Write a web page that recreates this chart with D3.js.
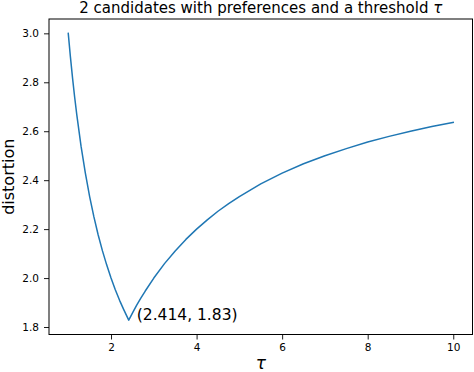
<!DOCTYPE html>
<html>
<head>
<meta charset="utf-8">
<script src="https://cdn.jsdelivr.net/npm/d3@7"></script>
<style>
  html, body { margin: 0; padding: 0; background: #fff; }
  svg { display: block; font-family: "DejaVu Sans", sans-serif; }
</style>
</head>
<body>
<svg id="chart" width="474" height="372"></svg>
<script>
// ---- data ----
const tau = [1.0, 1.05, 1.1, 1.15, 1.2, 1.3, 1.4, 1.5, 1.6, 1.7, 1.8, 1.9, 2.0, 2.1, 2.2, 2.3, 2.414,
             2.5, 2.6, 2.7, 2.8, 3.0, 3.25, 3.5, 3.75, 4.0, 4.25, 4.5, 4.75, 5.0, 5.5, 6.0, 6.5, 7.0, 7.5,
             8.0, 8.5, 9.0, 9.5, 10.0];
const distortion = [3.000, 2.905, 2.818, 2.739, 2.667, 2.538, 2.429, 2.333, 2.250, 2.176, 2.111, 2.053, 2.000, 1.952, 1.909, 1.870, 1.828,
                    1.857, 1.889, 1.919, 1.947, 2.000, 2.059, 2.111, 2.158, 2.200, 2.238, 2.273, 2.304, 2.333, 2.385, 2.429, 2.467, 2.500, 2.529,
                    2.556, 2.579, 2.600, 2.619, 2.636];
const xTicks = [2, 4, 6, 8, 10];
const yTicks = [1.8, 2.0, 2.2, 2.4, 2.6, 2.8, 3.0];
const minPoint = [2.414, 1.83];
const annotationText = "(2.414, 1.83)";
const titleText = "2 candidates with preferences and a threshold ";
const titleSymbol = "\u03C4";
const xLabel = "\u03C4";
const yLabel = "distortion";

(function () {
// ---- layout ----
const svg = d3.select("#chart");
const mLeft = 49, mRight = 472.5, mTop = 19, mBottom = 334.5;

// matplotlib-style 5% margins
const xExt = d3.extent(tau), yExt = d3.extent(distortion);
const xPad = (xExt[1] - xExt[0]) * 0.05, yPad = (yExt[1] - yExt[0]) * 0.05;
const x = d3.scaleLinear().domain([xExt[0] - xPad, xExt[1] + xPad]).range([mLeft, mRight]);
const y = d3.scaleLinear().domain([yExt[0] - yPad, yExt[1] + yPad]).range([mBottom, mTop]);

// line
const line = d3.line().x((d, i) => x(tau[i])).y(d => y(d));
svg.append("path")
  .datum(distortion)
  .attr("d", line)
  .attr("fill", "none")
  .attr("stroke", "#1f77b4")
  .attr("stroke-width", 1.5)
  .attr("stroke-linejoin", "round")
  .attr("stroke-linecap", "square");

// axes
const xAxis = d3.axisBottom(x).tickValues(xTicks).tickFormat(d3.format("d")).tickSize(5).tickPadding(4);
const yAxis = d3.axisLeft(y).tickValues(yTicks).tickFormat(d3.format(".1f")).tickSize(5).tickPadding(5);

const gx = svg.append("g").attr("transform", `translate(0,${mBottom})`).call(xAxis);
const gy = svg.append("g").attr("transform", `translate(${mLeft},0)`).call(yAxis);
[gx, gy].forEach(g => {
  g.select(".domain").remove();
  g.selectAll(".tick line").attr("stroke", "#000").attr("stroke-width", 0.9);
  g.selectAll(".tick text").attr("fill", "#000").style("font-size", "10.5px").style("font-family", "DejaVu Sans");
});

// frame (spines)
svg.append("rect")
  .attr("x", mLeft).attr("y", mTop)
  .attr("width", mRight - mLeft).attr("height", mBottom - mTop)
  .attr("fill", "none").attr("stroke", "#000").attr("stroke-width", 1);

// annotation
svg.append("text")
  .attr("x", x(minPoint[0]) + 8)
  .attr("y", y(minPoint[1]))
  .attr("font-size", "15.5px")
  .attr("fill", "#000")
  .text(annotationText);

// title
const title = svg.append("text")
  .attr("x", (mLeft + mRight) / 2)
  .attr("y", 13)
  .attr("text-anchor", "middle")
  .attr("font-size", "15px")
  .attr("fill", "#000");
title.append("tspan").text(titleText);
title.append("tspan").attr("font-style", "italic").text(titleSymbol);

// x label
svg.append("text")
  .attr("x", (mLeft + mRight) / 2)
  .attr("y", 369)
  .attr("text-anchor", "middle")
  .attr("font-size", "17px")
  .attr("font-style", "italic")
  .attr("fill", "#000")
  .text(xLabel);

// y label
svg.append("text")
  .attr("transform", `translate(${14},${(mTop + mBottom) / 2}) rotate(-90)`)
  .attr("text-anchor", "middle")
  .attr("font-size", "16px")
  .attr("fill", "#000")
  .text(yLabel);
})();
</script>
</body>
</html>
